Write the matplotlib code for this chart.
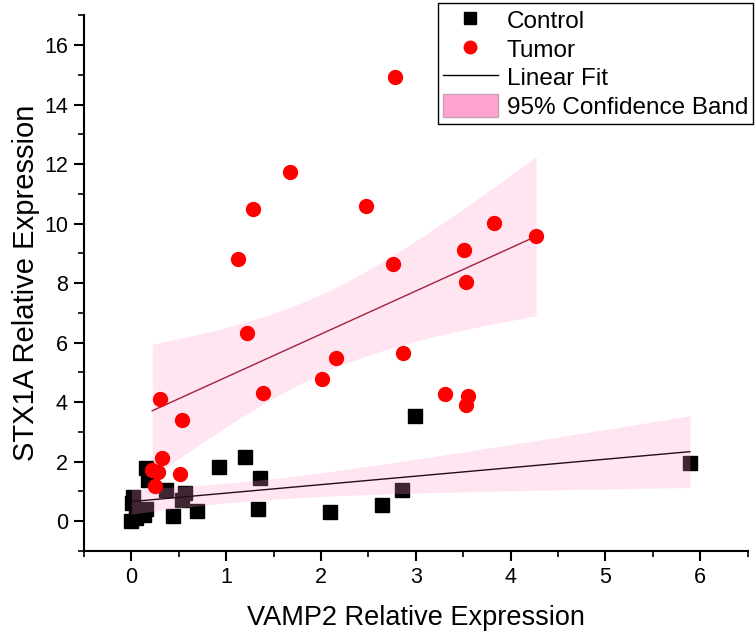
import numpy as np
import matplotlib
matplotlib.use("Agg")
from matplotlib import pyplot as plt
from matplotlib.lines import Line2D
from matplotlib.patches import Patch
from matplotlib.ticker import MultipleLocator

plt.rcParams['font.family'] = ['Liberation Sans', 'DejaVu Sans']

# values
control_x = [0.0, 0.01, 0.02, 0.05, 0.08, 0.13, 0.15, 0.15, 0.18, 0.37, 0.53, 0.57,
             0.44, 0.69, 0.92, 1.20, 1.34, 1.36, 2.10, 2.64, 2.85, 2.99, 5.89]
control_y = [0.0, 0.62, 0.83, 0.12, 0.30, 0.22, 0.40, 1.78, 1.39, 1.06, 0.72, 0.95,
             0.17, 0.36, 1.83, 2.17, 0.42, 1.44, 0.31, 0.56, 1.06, 3.54, 1.96]

tumor_x = [2.78, 1.67, 1.28, 2.48, 1.13, 3.82, 4.27, 3.51, 2.76, 3.53, 1.22, 2.87, 2.16,
           2.01, 1.385, 3.31, 3.55, 3.53, 0.30, 0.53, 0.32, 0.22, 0.28, 0.51, 0.25]
tumor_y = [14.94, 11.75, 10.50, 10.60, 8.81, 10.02, 9.60, 9.13, 8.65, 8.03, 6.31, 5.66, 5.49,
           4.77, 4.32, 4.27, 4.21, 3.90, 4.10, 3.41, 2.12, 1.72, 1.67, 1.58, 1.17]


def fit_band(x, y, t_crit):
    # linear fit and 95% confidence band of the mean
    x = np.asarray(x)
    y = np.asarray(y)
    n = len(x)
    slope, icpt = np.polyfit(x, y, 1)
    resid = y - (slope * x + icpt)
    s = np.sqrt(np.sum(resid ** 2) / (n - 2))
    xs = np.linspace(x.min(), x.max(), 200)
    ys = slope * xs + icpt
    se = s * np.sqrt(1.0 / n + (xs - x.mean()) ** 2 / np.sum((x - x.mean()) ** 2))
    return xs, ys, ys - t_crit * se, ys + t_crit * se


fig = plt.figure(figsize=(7.56, 6.37), dpi=100)
ax = fig.add_axes([0.111, 0.135, 0.878, 0.841])

band_col = '#ff99cc'

ax.plot(control_x, control_y, 's', color='black', markersize=10, zorder=2)

cx, cy, clo, chi = fit_band(control_x, control_y, 2.080)
ax.fill_between(cx, clo, chi, color=band_col, alpha=0.25, lw=0, zorder=3)
ax.plot(cx, cy, color='#2a0a14', lw=1, zorder=4)

tx, ty, tlo, thi = fit_band(tumor_x, tumor_y, 2.069)
ax.fill_between(tx, tlo, thi, color=band_col, alpha=0.25, lw=0, zorder=3)
ax.plot(tx, ty, color='#a0203c', lw=1, zorder=4)

ax.plot(tumor_x, tumor_y, 'o', color='#ff0000', markersize=10, zorder=5)

ax.set_xlim(-0.5, 6.5)
ax.set_ylim(-1, 17)
ax.xaxis.set_major_locator(MultipleLocator(1))
ax.xaxis.set_minor_locator(MultipleLocator(0.5))
ax.yaxis.set_major_locator(MultipleLocator(2))
ax.yaxis.set_minor_locator(MultipleLocator(1))

for side in ['top', 'right']:
    ax.spines[side].set_visible(False)
for side in ['left', 'bottom']:
    ax.spines[side].set_linewidth(1.5)

ax.tick_params(which='major', direction='out', length=7.5, width=1.5, labelsize=15.5, pad=4)
ax.tick_params(which='minor', direction='out', length=4, width=1.2)

ax.set_xlabel('VAMP2 Relative Expression', fontsize=19.5, labelpad=12)
ax.set_ylabel('STX1A Relative Expression', fontsize=21, labelpad=3)

handles = [
    Line2D([], [], marker='s', color='black', ls='none', markersize=9),
    Line2D([], [], marker='o', color='#ff0000', ls='none', markersize=9),
    Line2D([], [], color='black', lw=1),
    Patch(facecolor='#ffa3d3', edgecolor='#c8a0b4', lw=1),
]
labels = ['Control', 'Tumor', 'Linear Fit', '95% Confidence Band']
leg = ax.legend(handles, labels, loc='upper right', bbox_to_anchor=(0.996, 0.995),
                bbox_transform=fig.transFigure, borderaxespad=0, fontsize=17.5,
                frameon=True, fancybox=False, edgecolor='black', framealpha=1,
                handlelength=2.26, handleheight=1.1, handletextpad=0.37,
                labelspacing=0.15, borderpad=0.2, numpoints=1)
leg.get_frame().set_linewidth(1.0)
leg.set_zorder(10)

fig.savefig('out.png', dpi=100)
